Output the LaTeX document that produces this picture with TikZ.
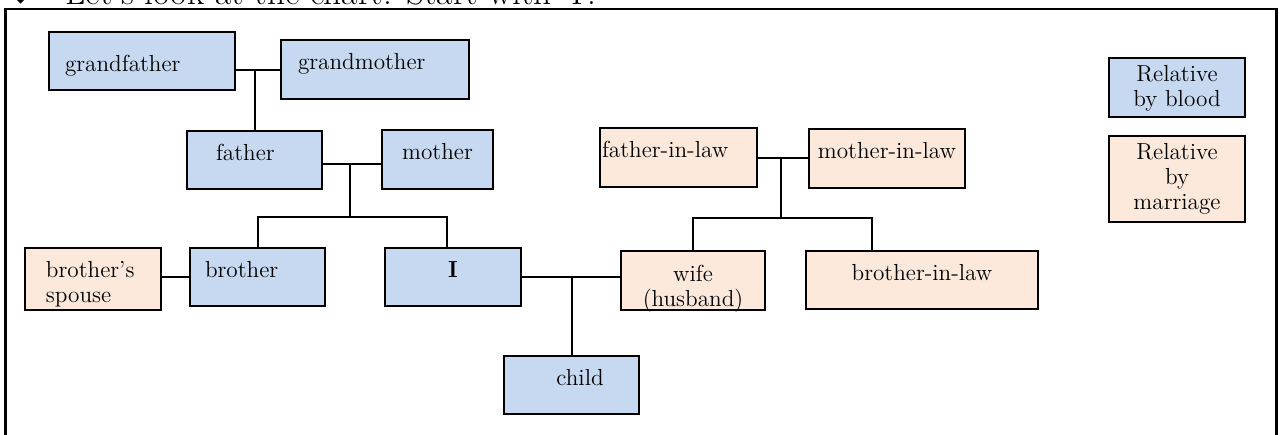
\documentclass[tikz,border=0pt]{standalone}
\usepackage{fontspec}
\newfontfamily\symbfont{DejaVu Sans}
\usetikzlibrary{calc}
\usetikzlibrary{positioning}
\definecolor{bloodblue}{RGB}{198,217,240}
\definecolor{marrpeach}{RGB}{252,233,219}
\newcommand{\famtext}{\fontsize{11.6}{12.5}\selectfont}

\tikzset{
  kin/.style={draw, line width=1pt, inner ysep=0pt, font=\famtext},
  blood/.style={kin, fill=bloodblue},
  inlaw/.style={kin, fill=marrpeach},
  oneline/.style={text height=8pt, text depth=8pt},
  lowline/.style={text height=13pt, text depth=3pt},
  twolines/.style 2 args={text height=#1, text depth=#2},
  lefttext/.style 2 args={align=left, text width=#1, inner xsep=#2},
  midtext/.style 2 args={align=center, text width=#1, inner xsep=#2},
  link/.style={line width=1pt}
}

\begin{document}
\begin{tikzpicture}[x=0.5pt, y=-0.5pt]
      \useasboundingbox (0,0) rectangle (1279,434);

      \node[anchor=south, inner sep=0pt, font=\symbfont\fontsize{15}{15}\selectfont] (mark) at (21,4.5) {◆};
      \node[anchor=base west, inner sep=0pt, font=\fontsize{17.7}{20}\selectfont] (title) at (65,4.5) {Let's look at the chart. Start with `I'.};
      \draw[line width=1.1pt] (5.5,9) rectangle (1276.5,460);

      \node[blood, lowline, lefttext={77pt}{8pt}, minimum height=29pt] (gf) at (142,61) {grandfather};
      \node[blood, oneline, lefttext={77pt}{8.5pt}, minimum height=29.5pt] (gm) at (375,69.5) {grandmother};
      \node[blood, oneline, lefttext={38.5pt}{14.5pt}, minimum height=29pt] (fa) at (254.5,160) {father};
      \node[blood, oneline, minimum width=55.5pt, minimum height=29.5pt] (mo) at (437.5,159.5) {mother};

      \node[inlaw, twolines={14.5pt}{16pt}, lefttext={47pt}{10.5pt}, minimum height=31pt] (sp) at (93,279) {brother's\\spouse};
      \node[blood, oneline, lefttext={52.5pt}{7.5pt}, minimum height=29pt] (br) at (257.5,277) {brother};
      \node[blood, oneline, minimum width=68pt, minimum height=29pt] (me) at (453,277) {\textbf{I}};
      \node[blood, oneline, minimum width=67.5pt, minimum height=29pt] (ch) at (571.5,385) {\hspace*{8.5pt}child};
      \node[inlaw, twolines={15pt}{14.5pt}, midtext={60pt}{6pt}, minimum height=29.5pt] (wf) at (693,280.5) {wife\\(husband)};

      \node[inlaw, oneline, lefttext={76.5pt}{1pt}, minimum height=29.5pt] (fil) at (678.5,157.5) {father-in-law};
      \node[inlaw, oneline, minimum width=78pt, minimum height=29.5pt] (mil) at (887,158.5) {mother-in-law};
      \node[inlaw, oneline, minimum width=116pt, minimum height=29pt] (bil) at (922,280) {brother-in-law};

      \node[blood, twolines={9pt}{15pt}, midtext={56pt}{6pt}, minimum height=29.5pt] (lb) at (1177,87.5) {Relative\\by blood};
      \node[inlaw, midtext={56pt}{6pt}, minimum height=43pt] (lm) at (1177,179) {Relative\\by\\marriage};

      \coordinate (parj) at (350,164);
      \coordinate (sibj) at (350,217);
      \coordinate (inlj) at (781,218);

      \draw[link] (gf.east |- gm.west) -- (gm.west);
      \draw[link] (fa.north) -- (fa.north |- gm.west);
      \draw[link] (fa.east |- parj) -- (mo.west |- parj);
      \draw[link] (parj) -- (sibj);
      \draw[link] (br.north) |- (sibj) -| ([xshift=-3pt]me.north);
      \draw[link] (sp.east |- br.west) -- (br.west);
      \draw[link] (me.east) -- (me.east -| wf.west);
      \draw[link] (ch.north) -- (ch.north |- me.east);
      \draw[link] (fil.east) -- (fil.east -| mil.west);
      \draw[link] (inlj) -- (inlj |- fil.east);
      \draw[link] (wf.north) |- (inlj) -| ([xshift=-25pt]bil.north);
    \end{tikzpicture}
\end{document}
